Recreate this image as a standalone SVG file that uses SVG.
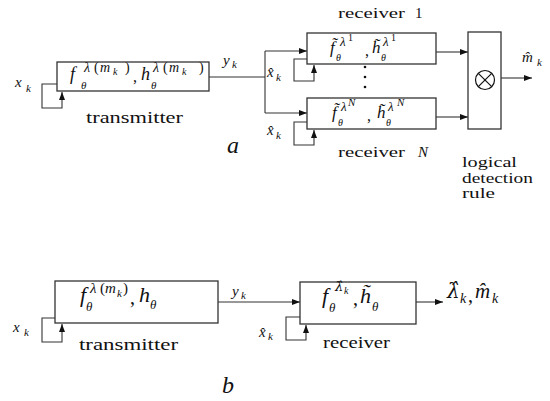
<svg xmlns="http://www.w3.org/2000/svg" width="550" height="401" viewBox="0 0 550 401">
<style>
.m{font-family:"Liberation Serif","DejaVu Serif",serif;font-style:italic;fill:#111}
.d{font-family:"DejaVu Serif","Liberation Serif",serif}
.n{font-style:normal}
.r{font-family:"Liberation Serif","DejaVu Serif",serif;fill:#111}
.ln{stroke:#333;stroke-width:1.1;fill:none}
.box{fill:#fff;stroke:#333;stroke-width:1.3}
</style>
<defs>
<marker id="ah" markerWidth="8" markerHeight="6" refX="8" refY="3" orient="auto" markerUnits="userSpaceOnUse"><path d="M0,0 L8,3 L0,6 z" fill="#111"/></marker>
</defs>
<rect width="550" height="401" fill="#fff"/>

<g id="connectors">
<polyline class="ln" points="57,84 42,84 42,108 62,108 62,92" marker-end="url(#ah)"/>
<line class="ln" x1="209" y1="77" x2="265" y2="77"/>
<line class="ln" x1="265" y1="51" x2="265" y2="113"/>
<line class="ln" x1="265" y1="51" x2="307" y2="51" marker-end="url(#ah)"/>
<line class="ln" x1="265" y1="113" x2="307" y2="113" marker-end="url(#ah)"/>
<polyline class="ln" points="307,59 294,59 294,81 314,81 314,65" marker-end="url(#ah)"/>
<polyline class="ln" points="307,122 294,122 294,145 314,145 314,130" marker-end="url(#ah)"/>
<line class="ln" x1="436" y1="52" x2="468" y2="52" marker-end="url(#ah)"/>
<line class="ln" x1="436" y1="117" x2="468" y2="117" marker-end="url(#ah)"/>
<line class="ln" x1="501" y1="78" x2="532" y2="78" marker-end="url(#ah)"/>
<polyline class="ln" points="55,318 42,318 42,342 62,342 62,324" marker-end="url(#ah)"/>
<line class="ln" x1="218" y1="302" x2="300" y2="302" marker-end="url(#ah)"/>
<polyline class="ln" points="300,317 286,317 286,340 306,340 306,325" marker-end="url(#ah)"/>
<line class="ln" x1="416" y1="302" x2="443" y2="302" marker-end="url(#ah)"/>
</g>

<g id="transmitter-a">
<rect class="box" x="57" y="62" width="152" height="29"/>
<text class="m">
<tspan x="70" y="80" font-size="18">f</tspan>
<tspan x="81" y="89" font-size="11">θ</tspan>
<tspan x="84" y="72" font-size="14">λ</tspan>
<tspan x="94" y="72" font-size="14" class="n">(</tspan>
<tspan x="100" y="72" font-size="14">m</tspan>
<tspan x="113" y="75" font-size="10">k</tspan>
<tspan x="125" y="72" font-size="14" class="n">)</tspan>
<tspan x="133" y="82" font-size="16" class="n">,</tspan>
<tspan x="141" y="80" font-size="18">h</tspan>
<tspan x="151" y="89" font-size="11">θ</tspan>
<tspan x="153" y="72" font-size="14">λ</tspan>
<tspan x="163" y="72" font-size="14" class="n">(</tspan>
<tspan x="169" y="72" font-size="14">m</tspan>
<tspan x="182" y="75" font-size="10">k</tspan>
<tspan x="199" y="72" font-size="14" class="n">)</tspan>
</text>
<text class="r" x="86" y="123" font-size="16" textLength="97" lengthAdjust="spacingAndGlyphs">transmitter</text>
<text class="m"><tspan x="15" y="87" font-size="15">x</tspan><tspan x="26" y="92" font-size="11">k</tspan></text>
<text class="m"><tspan x="223" y="65" font-size="15">y</tspan><tspan x="232" y="68" font-size="11">k</tspan></text>
</g>

<g id="receiver-1">
<rect class="box" x="307" y="33" width="129" height="31"/>
<text class="m">
<tspan x="330" y="53" font-size="17">f̃</tspan>
<tspan x="336" y="61" font-size="10">θ</tspan>
<tspan x="340" y="46" font-size="13">λ</tspan>
<tspan x="348" y="41" font-size="10" class="n">1</tspan>
<tspan x="365" y="56" font-size="16" class="n">,</tspan>
<tspan x="372" y="53" font-size="17">h̃</tspan>
<tspan x="381" y="61" font-size="10">θ</tspan>
<tspan x="383" y="46" font-size="13">λ</tspan>
<tspan x="391" y="41" font-size="10" class="n">1</tspan>
</text>
<text class="r" font-size="15"><tspan x="338" y="18" textLength="67" lengthAdjust="spacingAndGlyphs">receiver</tspan><tspan x="415" y="18">1</tspan></text>
<text class="m"><tspan x="267" y="77" font-size="15">x̂</tspan><tspan x="276" y="81" font-size="11">k</tspan></text>
</g>

<g id="dots">
<circle cx="365" cy="67" r="1.3" fill="#111"/>
<circle cx="365" cy="77" r="1.3" fill="#111"/>
<circle cx="365" cy="87" r="1.3" fill="#111"/>
</g>

<g id="receiver-N">
<rect class="box" x="307" y="98" width="129" height="31"/>
<text class="m">
<tspan x="332" y="118" font-size="17">f̃</tspan>
<tspan x="338" y="126" font-size="10">θ</tspan>
<tspan x="341" y="111" font-size="13">λ</tspan>
<tspan x="348" y="106" font-size="11">N</tspan>
<tspan x="367" y="121" font-size="16" class="n">,</tspan>
<tspan x="377" y="118" font-size="17">h̃</tspan>
<tspan x="386" y="126" font-size="10">θ</tspan>
<tspan x="388" y="111" font-size="13">λ</tspan>
<tspan x="397" y="106" font-size="11">N</tspan>
</text>
<text class="r" x="338" y="157" font-size="15" textLength="67" lengthAdjust="spacingAndGlyphs">receiver</text>
<text class="m" x="418" y="157" font-size="15">N</text>
<text class="m"><tspan x="267" y="135" font-size="15">x̂</tspan><tspan x="276" y="139" font-size="11">k</tspan></text>
</g>

<g id="logical-rule">
<rect class="box" x="468" y="32" width="33" height="97"/>
<circle cx="485" cy="80" r="9.5" fill="none" stroke="#111" stroke-width="1.2"/>
<line x1="478.3" y1="73.3" x2="491.7" y2="86.7" stroke="#111" stroke-width="1.2"/>
<line x1="491.7" y1="73.3" x2="478.3" y2="86.7" stroke="#111" stroke-width="1.2"/>
<text class="r" font-size="15">
<tspan x="462" y="167" textLength="55" lengthAdjust="spacingAndGlyphs">logical</tspan>
<tspan x="462" y="183" textLength="71" lengthAdjust="spacingAndGlyphs">detection</tspan>
<tspan x="462" y="198" textLength="33" lengthAdjust="spacingAndGlyphs">rule</tspan>
</text>
<text class="m"><tspan x="522" y="62" font-size="15">m̂</tspan><tspan x="537" y="66" font-size="11">k</tspan></text>
</g>

<text class="m" x="227" y="153" font-size="24">a</text>

<g id="transmitter-b">
<rect class="box" x="55" y="281" width="163" height="42"/>
<text class="m">
<tspan x="80" y="302" font-size="22">f</tspan>
<tspan x="86" y="311" font-size="13">θ</tspan>
<tspan x="90" y="293" font-size="15">λ</tspan>
<tspan x="100" y="293" font-size="15" class="n">(</tspan>
<tspan x="105" y="293" font-size="15">m</tspan>
<tspan x="117" y="297" font-size="11">k</tspan>
<tspan x="123" y="293" font-size="15" class="n">)</tspan>
<tspan x="130" y="304" font-size="20" class="n">,</tspan>
<tspan x="139" y="302" font-size="22">h</tspan>
<tspan x="150" y="309" font-size="13">θ</tspan>
</text>
<text class="r" x="79" y="350" font-size="16" textLength="99" lengthAdjust="spacingAndGlyphs">transmitter</text>
<text class="m"><tspan x="13" y="332" font-size="15">x</tspan><tspan x="24" y="336" font-size="11">k</tspan></text>
<text class="m"><tspan x="232" y="296" font-size="15">y</tspan><tspan x="241" y="299" font-size="11">k</tspan></text>
</g>

<g id="receiver-b">
<rect class="box" x="300" y="282" width="116" height="42"/>
<text class="m">
<tspan x="322" y="303" font-size="22">f</tspan>
<tspan x="329" y="312" font-size="13">θ</tspan>
<tspan x="335" y="291" font-size="13" class="d">λ̂</tspan>
<tspan x="344" y="294" font-size="10">k</tspan>
<tspan x="353" y="305" font-size="20" class="n">,</tspan>
<tspan x="360" y="303" font-size="22">h̃</tspan>
<tspan x="372" y="311" font-size="13">θ</tspan>
</text>
<text class="r" x="323" y="348" font-size="16" textLength="67" lengthAdjust="spacingAndGlyphs">receiver</text>
<text class="m"><tspan x="259" y="337" font-size="15">x̂</tspan><tspan x="268" y="340" font-size="11">k</tspan></text>
<text class="m">
<tspan x="447" y="298" font-size="20" class="d">λ̂</tspan>
<tspan x="460" y="303" font-size="14">k</tspan>
<tspan x="468" y="302" font-size="20" class="n">,</tspan>
<tspan x="475" y="298" font-size="21">m̂</tspan>
<tspan x="492" y="303" font-size="14">k</tspan>
</text>
</g>

<text class="m" x="222" y="393" font-size="24">b</text>
</svg>
